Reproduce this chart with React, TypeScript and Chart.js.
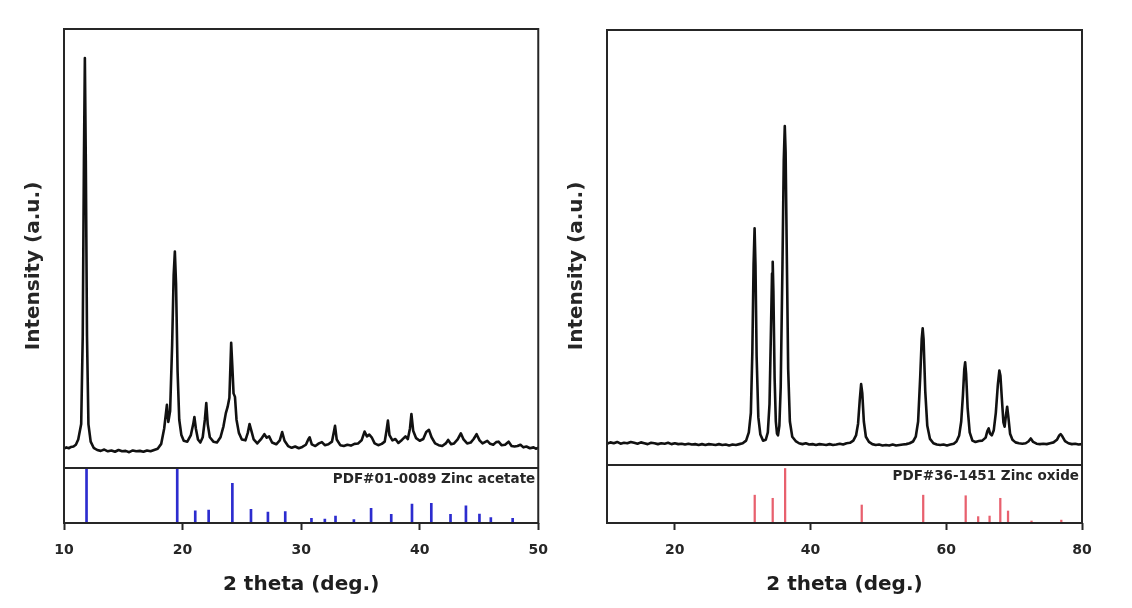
import React, { useEffect, useRef } from "react";
import { Chart, registerables } from "chart.js";

Chart.register(...registerables);

const FONT = "'DejaVu Sans', 'Liberation Sans', Arial, sans-serif";
const INK = "#262626";

const xTitle = "2 theta (deg.)";
const yTitle = "Intensity (a.u.)";

// ---------- Left panel: zinc acetate ----------
const acetateTheta = [
  10.0, 10.2, 10.4, 10.6, 10.8, 11.0, 11.2, 11.45, 11.58, 11.68, 11.76, 11.84, 11.94, 12.06, 12.25,
  12.5, 12.8, 13.1, 13.4, 13.7, 14.0, 14.3, 14.6, 14.9, 15.2, 15.5, 15.8, 16.1, 16.4, 16.7, 17.0, 17.3, 17.6, 17.9,
  18.2, 18.45, 18.68, 18.8, 18.95, 19.12, 19.25, 19.35, 19.45, 19.58, 19.72, 19.9, 20.1, 20.4, 20.7, 20.9, 21.0,
  21.12, 21.3, 21.5, 21.7, 21.88, 22.0, 22.12, 22.3, 22.6, 22.9, 23.2, 23.45, 23.65, 23.8, 23.95, 24.1, 24.2,
  24.3, 24.42, 24.55, 24.75, 25.0, 25.3, 25.5, 25.65, 25.8, 26.0, 26.3, 26.6, 26.9, 27.1, 27.3, 27.55, 27.9,
  28.2, 28.4, 28.6, 28.9, 29.2, 29.5, 29.8, 30.1, 30.4, 30.6, 30.72, 30.9, 31.2, 31.5, 31.75, 32.0, 32.3, 32.6,
  32.78, 32.86, 33.0, 33.3, 33.6, 33.9, 34.2, 34.5, 34.8, 35.1, 35.35, 35.55, 35.75, 35.95, 36.2, 36.5, 36.8,
  37.05, 37.2, 37.32, 37.45, 37.7, 37.95, 38.2, 38.5, 38.8, 39.0, 39.18, 39.3, 39.45, 39.7, 40.0, 40.3, 40.55,
  40.78, 41.0, 41.3, 41.6, 41.9, 42.2, 42.4, 42.65, 42.9, 43.2, 43.47, 43.7, 44.0, 44.3, 44.55, 44.8, 45.05,
  45.3, 45.5, 45.7, 45.95, 46.2, 46.45, 46.65, 46.9, 47.2, 47.5, 47.75, 48.0, 48.25, 48.5, 48.75, 49.0, 49.3,
  49.6, 49.8, 50.0,
];
const acetateIntensity = [
  4.4, 4.7, 4.5, 4.8, 4.9, 5.3, 6.5, 10, 30, 70, 93.4, 70, 30, 10, 6.0,
  4.6, 4.1, 3.9, 4.2, 3.8, 4.0, 3.7, 4.1, 3.8, 3.9, 3.6, 4.0, 3.8, 3.9, 3.7, 4.0, 3.8, 4.1, 4.4,
  5.5, 9.0, 14.4, 10.5, 13.0, 28.0, 44.0, 49.3, 42.0, 22.0, 11.0, 7.5, 6.2, 6.0, 7.5, 10.0, 11.6,
  9.0, 6.5, 5.8, 7.0, 11.0, 14.8, 10.0, 7.0, 6.0, 5.8, 7.0, 9.5, 12.5, 13.9, 16.0, 28.5, 23.0,
  17.0, 16.2, 11.0, 8.0, 6.5, 6.3, 8.0, 10.0, 8.5, 6.5, 5.6, 6.5, 7.7, 6.9, 7.2, 5.8, 5.4,
  6.3, 8.2, 6.2, 5.0, 4.6, 4.9, 4.5, 4.8, 5.3, 6.5, 7.0, 5.4, 5.0, 5.6, 5.9, 5.2, 5.4, 6.0,
  8.5, 9.6, 6.5, 5.2, 5.0, 5.3, 5.1, 5.5, 5.6, 6.3, 8.3, 7.2, 7.6, 7.0, 5.6, 5.2, 5.5,
  6.0, 8.5, 10.8, 7.5, 6.3, 6.6, 5.7, 6.4, 7.2, 6.6, 9.0, 12.3, 8.5, 6.8, 6.2, 6.6, 8.2,
  8.7, 7.0, 5.6, 5.2, 5.0, 5.6, 6.4, 5.4, 5.6, 6.5, 7.9, 6.5, 5.6, 5.8, 6.6, 7.7, 6.3,
  5.6, 5.9, 6.2, 5.5, 5.3, 5.9, 6.0, 5.2, 5.3, 6.0, 5.0, 4.9, 5.0, 5.3, 4.7, 4.9, 4.5,
  4.7, 4.4, 4.6,
];
const acetateRefTheta = [
  11.9, 19.55, 21.07, 22.2, 24.2, 25.77, 27.2, 28.66, 30.87, 32.0, 32.9, 34.45, 35.9, 37.6, 39.35, 40.98,
  42.6, 43.9, 45.04, 46.0, 47.84,
];
const acetateRefIntensity = [
  100, 100, 22, 23.6, 72, 25, 20, 20.6, 8.5, 7, 12.7, 6, 26.7, 15.8, 34.5, 35.8,
  15.8, 31, 16.4, 10, 8.5,
];
const acetateTicks = [10, 20, 30, 40, 50];
const acetateLabel = "PDF#01-0089 Zinc acetate";

// ---------- Right panel: zinc oxide ----------
const oxideTheta = [
  10, 10.5, 11, 11.5, 12, 12.5, 13, 13.5, 14, 14.5, 15, 15.5, 16, 16.5, 17, 17.5, 18, 18.5, 19, 19.5, 20,
  20.5, 21, 21.5, 22, 22.5, 23, 23.5, 24, 24.5, 25, 25.5, 26, 26.5, 27, 27.5, 28, 28.5, 29, 29.5, 30, 30.5,
  30.9, 31.2, 31.42, 31.6, 31.75, 31.88, 32.05, 32.3, 32.6, 33.0, 33.4, 33.7, 33.95, 34.15, 34.32, 34.42,
  34.52, 34.7, 34.88, 35.05, 35.2, 35.4, 35.6, 35.85, 36.05, 36.2, 36.32, 36.5, 36.7, 36.95, 37.3, 37.8,
  38.3, 38.8, 39.3, 39.8, 40.3, 40.8, 41.3, 41.8, 42.3, 42.8, 43.3, 43.8, 44.3, 44.8, 45.3, 45.8, 46.3,
  46.7, 47.0, 47.25, 47.45, 47.62, 47.85, 48.15, 48.6, 49.1, 49.6, 50.1, 50.6, 51.1, 51.6, 52.1, 52.6,
  53.1, 53.6, 54.1, 54.6, 55.1, 55.5, 55.85, 56.15, 56.38, 56.52, 56.65, 56.9, 57.2, 57.6, 58.1, 58.6,
  59.1, 59.6, 60.1, 60.6, 61.1, 61.5, 61.9, 62.2, 62.45, 62.65, 62.78, 62.92, 63.15, 63.45, 63.85, 64.3,
  64.8, 65.3, 65.8, 66.05, 66.25, 66.45, 66.7, 67.0, 67.3, 67.6, 67.82, 67.98, 68.2, 68.42, 68.6, 68.8,
  68.97, 69.15, 69.4, 69.75, 70.2, 70.7, 71.2, 71.7, 72.1, 72.45, 72.8, 73.3, 73.8, 74.3, 74.8, 75.3,
  75.8, 76.3, 76.65, 76.85, 77.1, 77.5, 78.0, 78.5, 79.0, 79.5, 80.0,
];
const oxideIntensity = [
  4.9, 5.2, 5.0, 5.3, 4.9, 5.1, 5.0, 5.3, 5.1, 4.9, 5.2, 5.0, 4.8, 5.1, 5.0, 4.8, 5.0, 4.9, 5.1, 4.8, 5.0,
  4.8, 4.9, 4.7, 4.9, 4.7, 4.8, 4.6, 4.8, 4.6, 4.8, 4.7, 4.6, 4.8, 4.6, 4.7, 4.5, 4.7, 4.6, 4.8, 5.0, 5.6,
  7.5, 12, 26, 46, 54.4, 46, 25, 11, 7, 5.6, 5.8, 7.5, 14, 30, 44, 46.7,
  40, 20, 10, 7.2, 6.8, 9, 18, 45, 70, 77.9, 72, 48, 22, 10, 6.5, 5.5,
  5.0, 4.8, 5.0, 4.7, 4.8, 4.6, 4.8, 4.7, 4.6, 4.8, 4.6, 4.7, 4.9, 4.7, 5.0, 5.1, 5.6,
  6.8, 9.5, 15, 18.6, 16.5, 10, 6.5, 5.3, 4.8, 4.6, 4.7, 4.5, 4.6, 4.5, 4.7, 4.5,
  4.6, 4.7, 4.8, 5.0, 5.4, 6.5, 10, 20, 29, 31.4, 29, 17, 9, 6, 5.0, 4.7,
  4.6, 4.7, 4.5, 4.7, 4.9, 5.4, 6.8, 10, 16, 22, 23.6, 21, 13, 7.5, 5.6, 5.3,
  5.5, 5.6, 6.3, 7.8, 8.4, 7.2, 6.8, 8, 12, 18.5, 21.7, 20.5, 15, 9.8, 8.8, 11.5,
  13.4, 11, 7.2, 5.8, 5.2, 5.0, 4.9, 5.0, 5.4, 6.1, 5.3, 4.9, 4.8, 4.9, 4.8, 5.0,
  5.2, 5.8, 6.8, 7.1, 6.6, 5.5, 5.0, 4.8, 4.9, 4.7, 4.8,
];
const oxideRefTheta = [31.77, 34.42, 36.25, 47.54, 56.6, 62.86, 64.7, 66.38, 67.96, 69.1, 72.56, 76.95];
const oxideRefIntensity = [48, 42.6, 94, 31, 48, 47, 11, 12, 42.6, 20.7, 3.5, 5];
const oxideTicks = [20, 40, 60, 80];
const oxideLabel = "PDF#36-1451 Zinc oxide";

type PanelProps = {
  left: number;
  width: number;
  theta: number[];
  intensity: number[];
  refTheta: number[];
  refIntensity: number[];
  refColor: string;
  refWidth: number;
  ticks: number[];
  xMin: number;
  xMax: number;
  label: string;
  pad: { left: number; right: number; top: number };
  weights: [number, number];
  yTitleX: number;
};

function Panel(p: PanelProps) {
  const ref = useRef<HTMLCanvasElement | null>(null);
  useEffect(() => {
    if (!ref.current) return;
    const framePlugin = {
      id: "frame",
      afterDatasetsDraw(chart: any) {
        const { ctx, chartArea: a, scales } = chart;
        ctx.save();
        ctx.strokeStyle = INK;
        ctx.lineWidth = 2;
        ctx.strokeRect(a.left, a.top, a.right - a.left, a.bottom - a.top);
        const yd = scales.yTop.bottom;
        ctx.beginPath();
        ctx.moveTo(a.left, yd);
        ctx.lineTo(a.right, yd);
        ctx.stroke();
        ctx.fillStyle = INK;
        ctx.font = `bold 13.5px ${FONT}`;
        ctx.textAlign = "right";
        ctx.textBaseline = "middle";
        ctx.fillText(p.label, a.right - 3, yd + 11.5);
        ctx.translate(p.yTitleX, 266);
        ctx.rotate(-Math.PI / 2);
        ctx.font = `bold 20px ${FONT}`;
        ctx.textAlign = "center";
        ctx.textBaseline = "middle";
        ctx.fillText(yTitle, 0, 0);
        ctx.restore();
      },
    };
    const hiddenY = (stackWeight: number, weight: number) => ({
      type: "linear" as const,
      position: "left" as const,
      stack: "panel",
      stackWeight,
      weight,
      min: 0,
      max: 100,
      grid: { display: false },
      border: { display: false },
      ticks: { display: false },
      afterFit: (s: any) => {
        s.width = 0;
      },
    });
    const chart = new Chart(ref.current, {
      type: "line",
      data: {
        datasets: [
          {
            type: "line",
            data: p.theta.map((x, i) => ({ x, y: p.intensity[i] })),
            xAxisID: "x",
            yAxisID: "yTop",
            borderColor: "#111111",
            borderWidth: 2.6,
            borderJoinStyle: "round",
            pointRadius: 0,
            tension: 0,
            fill: false,
          } as any,
          {
            type: "bar",
            data: p.refTheta.map((x, i) => ({ x, y: p.refIntensity[i] })),
            xAxisID: "x",
            yAxisID: "yBot",
            backgroundColor: p.refColor,
            borderWidth: 0,
            barThickness: p.refWidth,
            grouped: false,
          } as any,
        ],
      },
      options: {
        animation: false,
        responsive: false,
        layout: { padding: { left: p.pad.left, right: p.pad.right, top: p.pad.top, bottom: 0 } },
        plugins: { legend: { display: false }, tooltip: { enabled: false } },
        scales: {
          x: {
            type: "linear",
            position: "bottom",
            min: p.xMin,
            max: p.xMax,
            offset: false,
            afterBuildTicks: (s: any) => {
              s.ticks = p.ticks.map((v) => ({ value: v }));
            },
            afterFit: (s: any) => {
              s.height = 85;
            },
            grid: {
              display: true,
              offset: false,
              drawOnChartArea: false,
              drawTicks: true,
              tickLength: 7,
              tickWidth: 2,
              tickColor: INK,
            },
            border: { display: false },
            ticks: {
              autoSkip: false,
              maxRotation: 0,
              padding: 12,
              color: INK,
              font: { family: FONT, weight: "bold", size: 14 },
            },
            title: {
              display: true,
              text: xTitle,
              color: "#1e1e1e",
              font: { family: FONT, weight: "bold", size: 20 },
              padding: { top: 0, bottom: 11 },
            },
          },
          yBot: hiddenY(p.weights[1], 1),
          yTop: hiddenY(p.weights[0], 2),
        } as any,
      },
      plugins: [framePlugin],
    });
    return () => chart.destroy();
  }, []);
  return (
    <canvas
      ref={ref}
      width={p.width}
      height={608}
      style={{ position: "absolute", left: p.left, top: 0, width: p.width, height: 608 }}
    />
  );
}

export default function App() {
  return (
    <div
      style={{
        position: "absolute",
        left: 0,
        top: 0,
        width: 1132,
        height: 608,
        background: "#ffffff",
        overflow: "hidden",
      }}
    >
      <Panel
        left={0}
        width={560}
        theta={acetateTheta}
        intensity={acetateIntensity}
        refTheta={acetateRefTheta}
        refIntensity={acetateRefIntensity}
        refColor="#2c2ccf"
        refWidth={2}
        ticks={acetateTicks}
        xMin={10}
        xMax={50}
        label={acetateLabel}
        pad={{ left: 64, right: 20, top: 29 }}
        weights={[439, 55]}
        yTitleX={33.5}
      />
      <Panel
        left={560}
        width={572}
        theta={oxideTheta}
        intensity={oxideIntensity}
        refTheta={oxideRefTheta}
        refIntensity={oxideRefIntensity}
        refColor="#e8606e"
        refWidth={1.6}
        ticks={oxideTicks}
        xMin={10}
        xMax={80}
        label={oxideLabel}
        pad={{ left: 47, right: 50, top: 30 }}
        weights={[435, 58]}
        yTitleX={17}
      />
    </div>
  );
}
